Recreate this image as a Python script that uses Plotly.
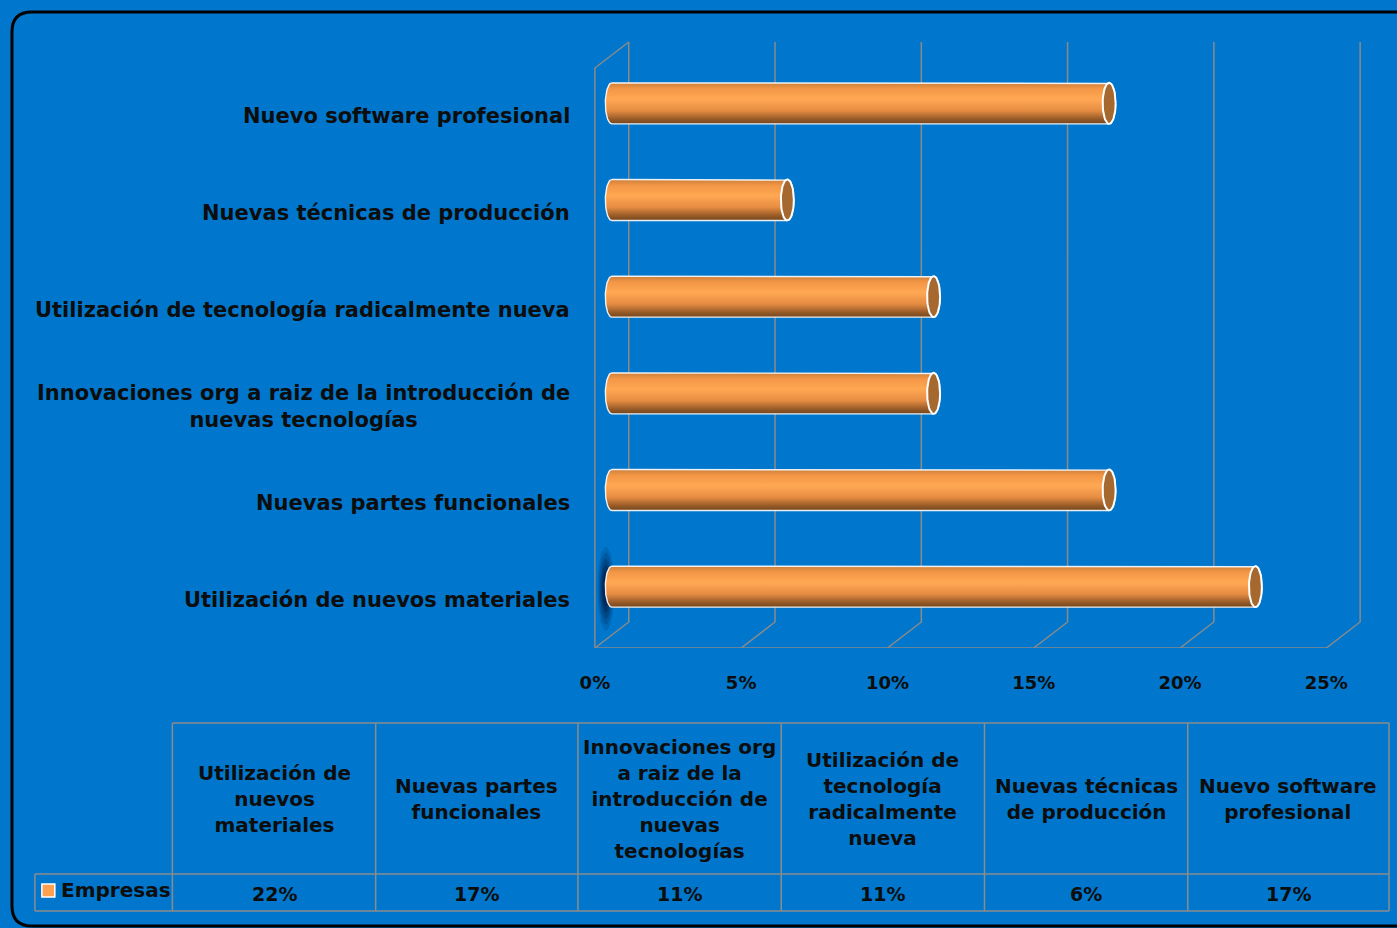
import numpy as np
import plotly.graph_objects as go

# ---- data -------------------------------------------------------------
categories = [
    "Utilización de nuevos materiales",
    "Nuevas partes funcionales",
    "Innovaciones org a raiz de la introducción de<br>nuevas tecnologías",
    "Utilización de tecnología radicalmente nueva",
    "Nuevas técnicas de producción",
    "Nuevo software profesional",
]
table_headers = [
    "Utilización de<br>nuevos<br>materiales",
    "Nuevas partes<br>funcionales",
    "Innovaciones org<br>a raiz de la<br>introducción de<br>nuevas<br>tecnologías",
    "Utilización de<br>tecnología<br>radicalmente<br>nueva",
    "Nuevas técnicas<br>de producción",
    "Nuevo software<br>profesional",
]
series_name = "Empresas"
empresas = [22, 17, 11, 11, 6, 17]
x_ticks = [0, 5, 10, 15, 20, 25]

# ---- page geometry (pixels) ------------------------------------------
W, H = 1397, 928
BG = "#0077cc"
GRID = "#8a8a8a"
TXT = "#0d0d0d"
FONT = "DejaVu Sans"

X0_PX = 592.0                      # front edge, 0 %
PX_PCT = (1326.0 - 592.0) / 25.0   # pixels per percentage point
Y0_PX = 648.0                      # front floor (category -0.5)
PX_CAT = 580.0 / 6.0               # pixels per category step
XR = [-0.35, 26.3]
YR = [-0.5, 5.8]

DX = 34.0 / PX_PCT                 # depth of the 3-D box in x units
DY = 26.0 / PX_CAT                 # depth of the 3-D box in y units


def px_x(p):
    return p / W


def px_y(p):
    return 1.0 - p / H


x_dom = [px_x(X0_PX + XR[0] * PX_PCT), px_x(X0_PX + XR[1] * PX_PCT)]
y_dom = [px_y(Y0_PX), px_y(Y0_PX - (YR[1] - YR[0]) * PX_CAT)]

fig = go.Figure()

# ---- 3-D wall / floor grid -------------------------------------------
gx, gy = [], []
for t in x_ticks:
    gx += [t, t + DX, t + DX, None]
    gy += [-0.5, -0.5 + DY, 5.5 + DY, None]
gx += [0, 25, None, 0, 0, DX, None]
gy += [-0.5, -0.5, None, -0.5, 5.5, 5.5 + DY, None]
fig.add_trace(go.Scatter(x=gx, y=gy, mode="lines",
                         line=dict(color=GRID, width=1.5),
                         hoverinfo="skip", showlegend=False))

# soft shadow behind the lowest cylinder
for k, a in enumerate([0.15, 0.2, 0.28, 0.36, 0.45]):
    rx = (8.5 - 1.3 * k) / PX_PCT
    ry = (42 - 6 * k) / PX_CAT
    cx, cy = 11.0 / PX_PCT, 0 + DY / 2 - 2 / PX_CAT
    th = np.linspace(0, 2 * np.pi, 60)
    fig.add_trace(go.Scatter(
        x=cx + rx * np.cos(th), y=cy + ry * np.sin(th), mode="lines",
        fill="toself", fillcolor=f"rgba(0,25,70,{a})", line=dict(width=0),
        hoverinfo="skip", showlegend=False))

# ---- cylinders --------------------------------------------------------
HALF = 20.5 / PX_CAT     # half thickness of a cylinder
RX = 6.5 / PX_PCT        # horizontal radius of the end ellipses
cyl_scale = [
    [0.0, "#74461c"], [0.12, "#985b28"], [0.32, "#e58c42"],
    [0.6, "#ffa853"], [0.85, "#f39746"], [1.0, "#cc7f3a"],
]

for i, v in enumerate(empresas):
    yc = i + DY / 2
    x0 = DX / 2
    x1 = v + DX / 2
    th_r = np.linspace(np.pi / 2, -np.pi / 2, 40)
    th_l = np.linspace(3 * np.pi / 2, np.pi / 2, 40)
    bx = np.concatenate([[x0], x1 + RX * np.cos(th_r), x0 + RX * np.cos(th_l)])
    by = np.concatenate([[yc + HALF], yc + HALF * np.sin(th_r), yc + HALF * np.sin(th_l)])
    fig.add_trace(go.Scatter(
        x=bx, y=by, mode="lines", fill="toself",
        fillgradient=dict(type="vertical", colorscale=cyl_scale),
        line=dict(color="rgba(255,255,255,0.9)", width=1.4),
        hoverinfo="skip", showlegend=False))
    th = np.linspace(0, 2 * np.pi, 60)
    fig.add_trace(go.Scatter(
        x=x1 + RX * np.cos(th), y=yc + HALF * np.sin(th),
        mode="lines", fill="toself", fillcolor="#a5682f",
        line=dict(color="white", width=2),
        hoverinfo="skip", showlegend=False))

shapes = []

# ---- category labels ---------------------------------------------------
annotations = []
for i, name in enumerate(categories):
    annotations.append(dict(
        xref="paper", yref="y", x=px_x(569), y=i, xanchor="right",
        yanchor="middle", align="center", text=name, showarrow=False,
        font=dict(family=FONT, size=21, color=TXT, weight="bold")))

# ---- data table --------------------------------------------------------
col_edges = [168, 372, 575, 779, 983, 1187, 1389]
T_TOP, T_MID, T_BOT = 723, 874, 911
LEG_LEFT = 30
tline = dict(color="#8c8c8c", width=1.5)


def hline(xa, xb, y, line=tline):
    return dict(type="line", xref="paper", yref="paper",
                x0=px_x(xa), x1=px_x(xb), y0=px_y(y), y1=px_y(y), line=line)


def vline(x, ya, yb, line=tline):
    return dict(type="line", xref="paper", yref="paper",
                x0=px_x(x), x1=px_x(x), y0=px_y(ya), y1=px_y(yb), line=line)


shapes += [hline(col_edges[0], col_edges[-1], T_TOP),
           hline(LEG_LEFT, col_edges[-1], T_MID),
           hline(LEG_LEFT, col_edges[-1], T_BOT),
           vline(LEG_LEFT, T_MID, T_BOT)]
for xe in col_edges:
    shapes.append(vline(xe, T_TOP, T_BOT))

for j, (hdr, val) in enumerate(zip(table_headers, empresas)):
    cx = (col_edges[j] + col_edges[j + 1]) / 2
    annotations.append(dict(
        xref="paper", yref="paper", x=px_x(cx), y=px_y((T_TOP + T_MID) / 2),
        xanchor="center", yanchor="middle", align="center", text=hdr,
        showarrow=False,
        font=dict(family=FONT, size=20, color=TXT, weight="bold")))
    annotations.append(dict(
        xref="paper", yref="paper", x=px_x(cx), y=px_y((T_MID + T_BOT) / 2 + 1),
        xanchor="center", yanchor="middle", text=f"{val}%", showarrow=False,
        font=dict(family=FONT, size=19, color=TXT, weight="bold")))

# legend key inside the table
shapes.append(dict(type="rect", xref="paper", yref="paper",
                   x0=px_x(37), x1=px_x(50), y0=px_y(884), y1=px_y(897),
                   fillcolor="#ff9f50", line=dict(color="white", width=1.5)))
annotations.append(dict(
    xref="paper", yref="paper", x=px_x(54), y=px_y(890), xanchor="left",
    yanchor="middle", text=series_name, showarrow=False,
    font=dict(family=FONT, size=20, color=TXT, weight="bold")))

# ---- outer frame: straight edges plus two rounded corners on the left ---
FL, FT, FB, FR, RAD = 7, 12, 926, 1410, 20
frame = dict(color="black", width=3)
shapes += [hline(FL + RAD, FR, FT, frame),
           hline(FL + RAD, FR, FB, frame),
           vline(FL, FT + RAD, FB - RAD, frame)]
shapes.append(dict(
    type="path", xref="paper", yref="paper", line=frame,
    path=(f"M {px_x(FL)},{px_y(FT + RAD)} "
          f"Q {px_x(FL)},{px_y(FT)} {px_x(FL + RAD)},{px_y(FT)}")))
shapes.append(dict(
    type="path", xref="paper", yref="paper", line=frame,
    path=(f"M {px_x(FL)},{px_y(FB - RAD)} "
          f"Q {px_x(FL)},{px_y(FB)} {px_x(FL + RAD)},{px_y(FB)}")))

fig.update_layout(
    width=W, height=H, autosize=False,
    margin=dict(l=0, r=0, t=0, b=0, pad=0),
    paper_bgcolor=BG, plot_bgcolor="rgba(0,0,0,0)",
    showlegend=False, hovermode=False,
    shapes=shapes, annotations=annotations,
    xaxis=dict(domain=x_dom, range=XR, showgrid=False, zeroline=False,
               showline=False, tickmode="array", tickvals=x_ticks,
               ticktext=[f"{t}%" for t in x_ticks], ticks="",
               ticklabelstandoff=22,
               tickfont=dict(family=FONT, size=18, color=TXT, weight="bold"),
               fixedrange=True),
    yaxis=dict(domain=y_dom, range=YR, showgrid=False, zeroline=False,
               showline=False, showticklabels=False, ticks="",
               fixedrange=True),
)

fig.write_html("out.html", config={"displayModeBar": False})
